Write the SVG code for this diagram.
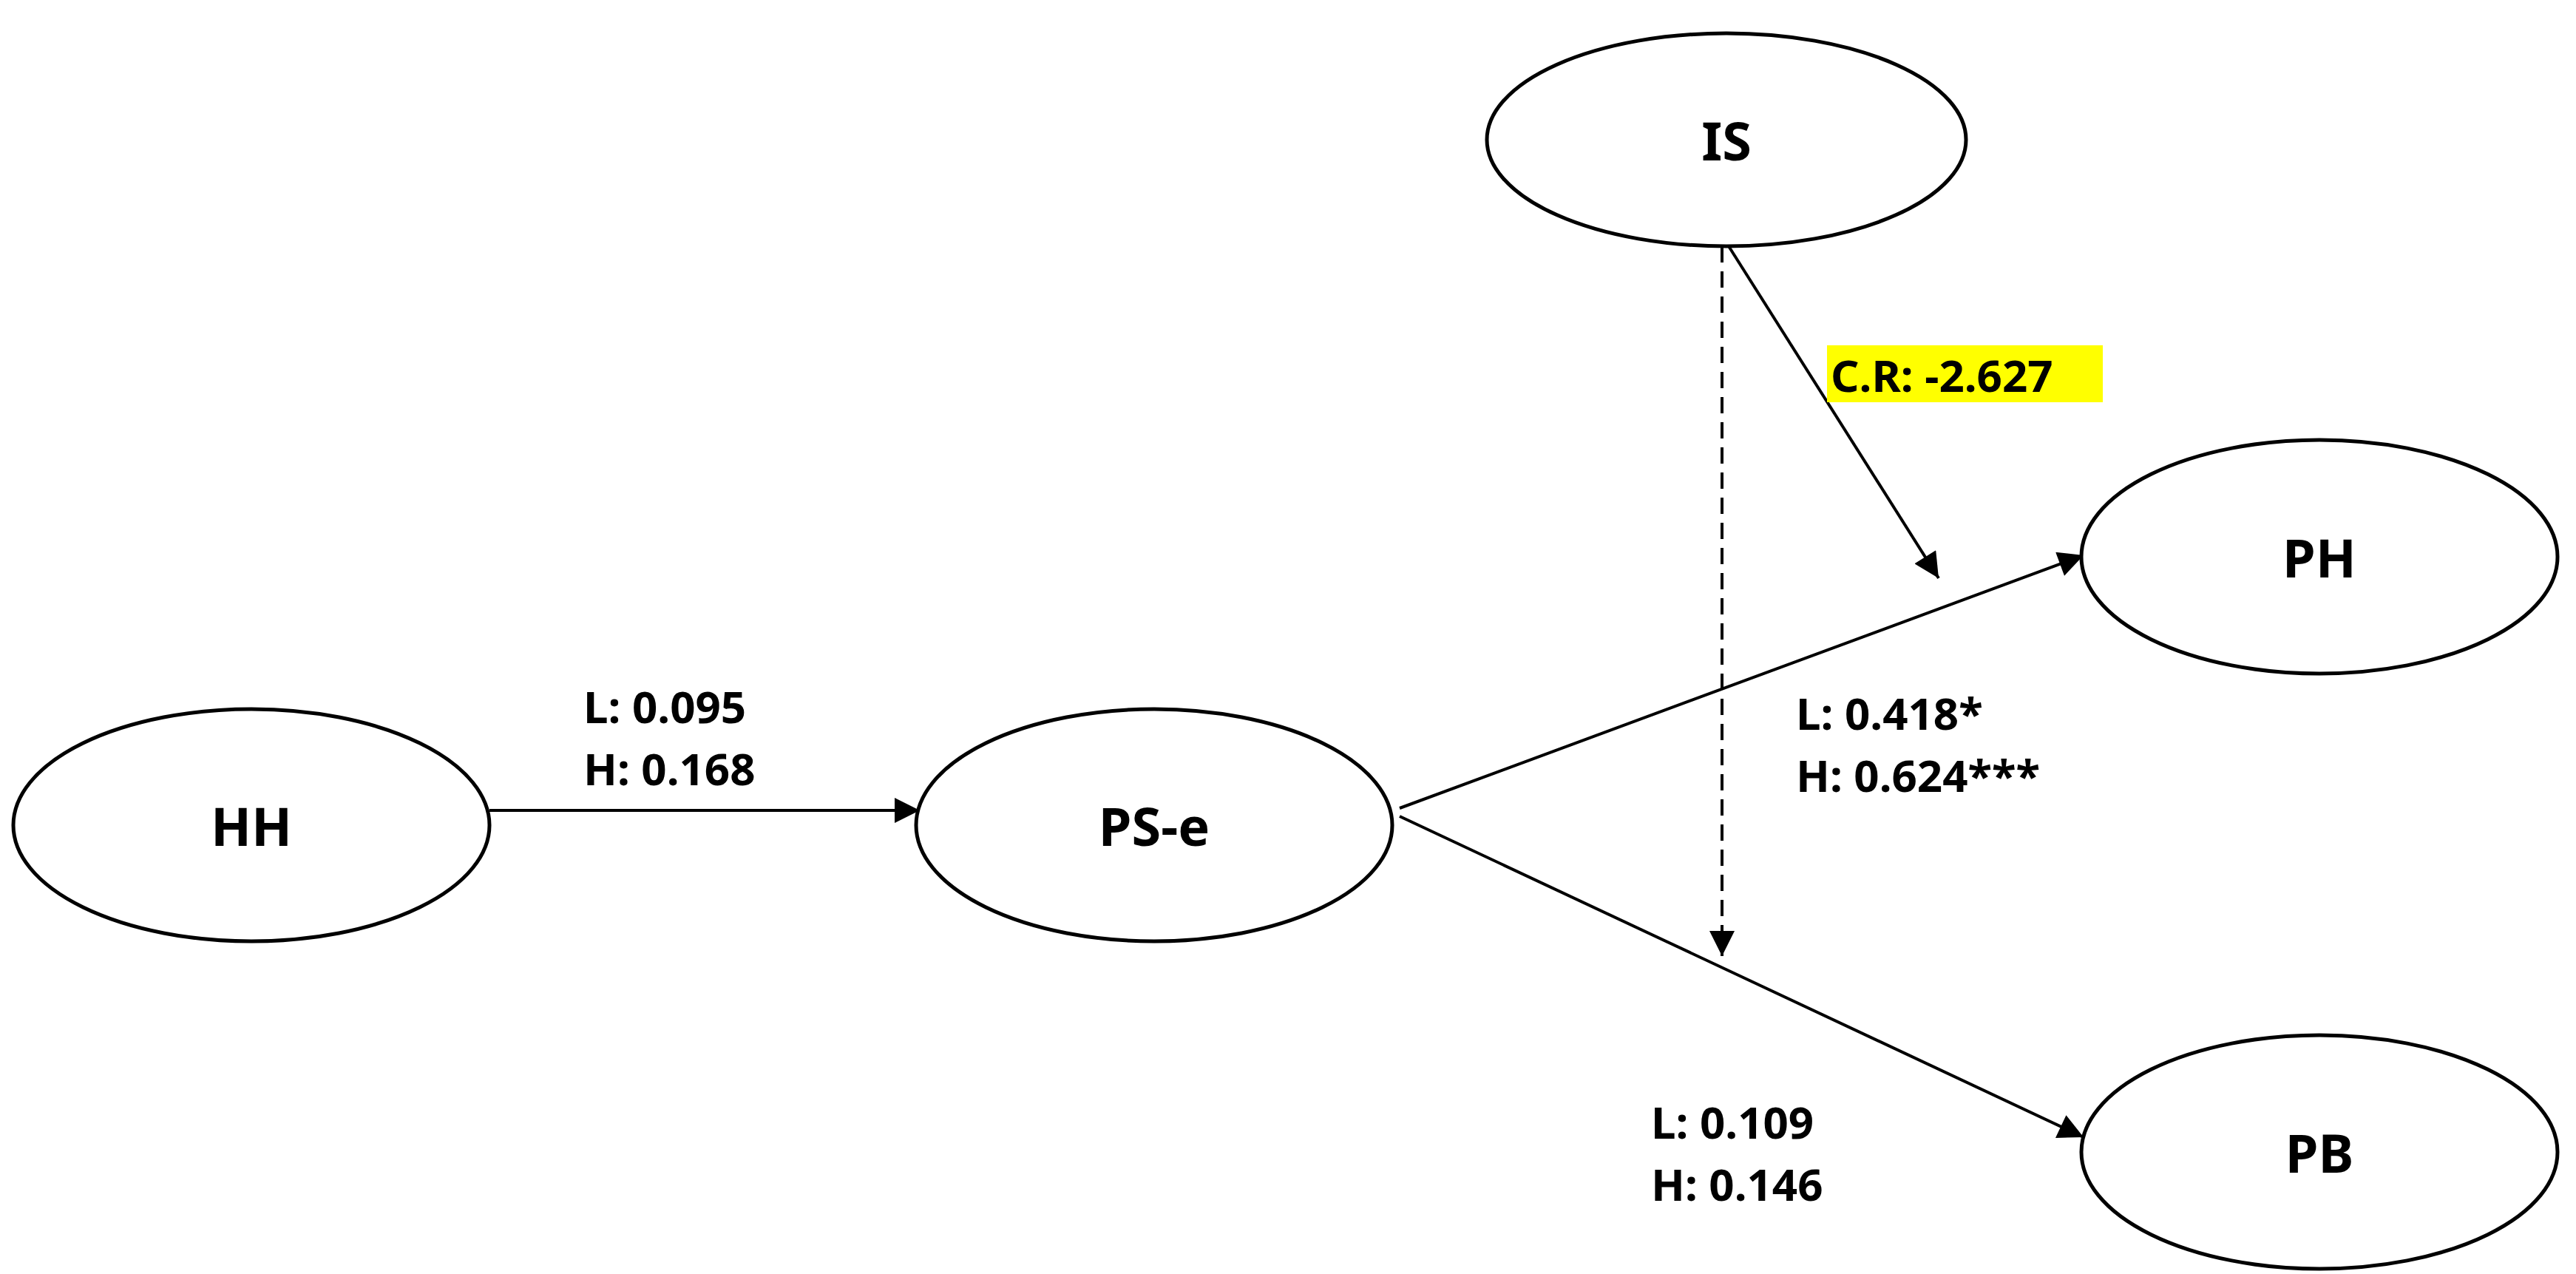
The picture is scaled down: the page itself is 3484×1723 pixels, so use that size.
<svg xmlns="http://www.w3.org/2000/svg" width="3484" height="1723" viewBox="0 0 3484 1723">
<style>
.n{fill:#fff;stroke:#000;stroke-width:5}
.t{font-family:"Noto Sans","Liberation Sans",sans-serif;font-weight:bold;font-size:72px;text-anchor:middle;dominant-baseline:central}
.l{font-family:"Noto Sans","Liberation Sans",sans-serif;font-weight:bold;font-size:60px}
.c{stroke:#000;stroke-width:4;fill:none}
</style>
<defs><marker id="a" markerWidth="12" markerHeight="10" refX="11" refY="5" orient="auto" markerUnits="userSpaceOnUse" viewBox="0 0 12 10"><path d="M0,0L12,5L0,10z"/></marker>
<marker id="b" viewBox="0 0 10 10" refX="10" refY="5" markerWidth="40" markerHeight="34" orient="auto" markerUnits="userSpaceOnUse"><path d="M0,0L10,5L0,10z"/></marker></defs>
<rect width="3484" height="1723" fill="#fff"/>
<g id="connectors">
<line class="c" x1="662" y1="1096" x2="1244" y2="1096" marker-end="url(#b)"/>
<line class="c" x1="1893" y1="1093" x2="2818" y2="751" marker-end="url(#b)"/>
<line class="c" x1="1893" y1="1104" x2="2818" y2="1538" marker-end="url(#b)"/>
<line class="c" x1="2338" y1="333" x2="2622" y2="782" marker-end="url(#b)"/>
<line class="c" x1="2329" y1="333" x2="2329" y2="1293" stroke-dasharray="22,12" marker-end="url(#b)"/>
</g>
<g id="HH"><ellipse class="n" cx="340" cy="1116" rx="322" ry="157"/><text class="t" x="340" y="1116">HH</text></g>
<g id="PS-e"><ellipse class="n" cx="1561" cy="1116" rx="322" ry="157"/><text class="t" x="1561" y="1116">PS-e</text></g>
<g id="IS"><ellipse class="n" cx="2335" cy="189" rx="324" ry="144"/><text class="t" x="2335" y="189">IS</text></g>
<g id="PH"><ellipse class="n" cx="3137" cy="753" rx="322" ry="158"/><text class="t" x="3137" y="753">PH</text></g>
<g id="PB"><ellipse class="n" cx="3137" cy="1558" rx="322" ry="158"/><text class="t" x="3137" y="1558">PB</text></g>
<g id="labels">
<text class="l" x="789" y="978">L: 0.095</text>
<text class="l" x="789" y="1062">H: 0.168</text>
<text class="l" x="2429" y="987">L: 0.418*</text>
<text class="l" x="2429" y="1071">H: 0.624***</text>
<text class="l" x="2233" y="1540">L: 0.109</text>
<text class="l" x="2233" y="1624">H: 0.146</text>
<rect x="2471" y="467" width="373" height="77" fill="#ffff00"/>
<text class="l" x="2476" y="530">C.R: -2.627</text>
</g>
</svg>
